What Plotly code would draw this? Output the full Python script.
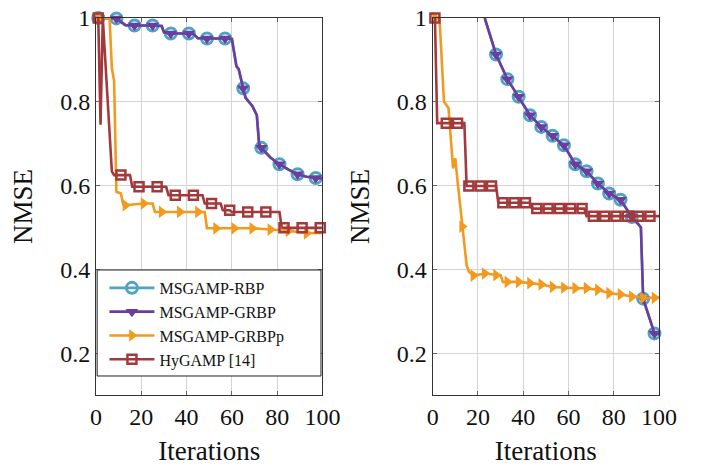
import plotly.graph_objects as go

# ---------------- data ----------------
names = ["MSGAMP-RBP", "MSGAMP-GRBP", "MSGAMP-GRBPp", "HyGAMP [14]"]
x_ticks = [0, 20, 40, 60, 80, 100]
y_ticks = [0.2, 0.4, 0.6, 0.8, 1.0]
y_tick_text = ["0.2", "0.4", "0.6", "0.8", "1"]

# left panel
rbp_left_it = [1, 9, 13, 17, 25, 29, 30, 33, 41, 43, 45, 49, 57, 60, 62, 63, 65, 66, 69, 71, 72, 73, 77, 81, 85, 89, 93, 97, 100]
rbp_left_val = [1.0, 0.999, 0.983, 0.982, 0.982, 0.981, 0.966, 0.963, 0.963, 0.962, 0.952, 0.951, 0.951, 0.950, 0.885, 0.878, 0.832, 0.810, 0.790, 0.768, 0.700, 0.690, 0.667, 0.651, 0.638, 0.627, 0.621, 0.618, 0.617]
grbp_left_it = [1, 9, 13, 17, 25, 29, 30, 33, 41, 43, 45, 49, 57, 60, 62, 63, 65, 66, 69, 71, 72, 73, 77, 81, 85, 89, 93, 97, 100]
grbp_left_val = [1.0, 0.999, 0.983, 0.982, 0.982, 0.981, 0.966, 0.963, 0.963, 0.962, 0.952, 0.951, 0.951, 0.950, 0.885, 0.878, 0.832, 0.810, 0.790, 0.768, 0.700, 0.690, 0.667, 0.651, 0.638, 0.627, 0.621, 0.618, 0.617]
grbpp_left_it = [1, 6, 7, 8, 9, 11, 12, 13, 21, 25, 26, 29, 37, 45, 48, 49, 53, 61, 69, 77, 85, 93, 100]
grbpp_left_val = [1.0, 1.0, 0.88, 0.85, 0.585, 0.581, 0.555, 0.553, 0.557, 0.557, 0.537, 0.537, 0.537, 0.537, 0.537, 0.498, 0.498, 0.498, 0.498, 0.495, 0.492, 0.486, 0.487]
hy_left_it = [1, 2, 3, 7, 8, 11, 15, 16, 19, 27, 31, 32, 35, 43, 47, 48, 51, 55, 56, 59, 60, 67, 75, 81, 82, 83, 91, 99, 100]
hy_left_val = [1.0, 0.745, 1.0, 0.634, 0.625, 0.625, 0.625, 0.597, 0.597, 0.597, 0.597, 0.577, 0.577, 0.577, 0.577, 0.557, 0.557, 0.557, 0.541, 0.541, 0.537, 0.537, 0.537, 0.537, 0.500, 0.499, 0.499, 0.499, 0.499]

# right panel
rbp_right_it = [23, 28, 33, 38, 43, 48, 53, 58, 63, 68, 73, 78, 83, 88, 91, 92, 93, 98, 100]
rbp_right_val = [1.0, 0.913, 0.854, 0.812, 0.768, 0.740, 0.719, 0.696, 0.651, 0.634, 0.605, 0.581, 0.566, 0.525, 0.507, 0.500, 0.330, 0.247, 0.245]
grbp_right_it = [23, 28, 33, 38, 43, 48, 53, 58, 63, 68, 73, 78, 83, 88, 91, 92, 93, 98, 100]
grbp_right_val = [1.0, 0.913, 0.854, 0.812, 0.768, 0.740, 0.719, 0.696, 0.651, 0.634, 0.605, 0.581, 0.566, 0.525, 0.507, 0.500, 0.330, 0.247, 0.245]
grbpp_right_it = [1, 3, 5, 7, 9, 10, 11, 13, 15, 16, 18, 23, 28, 30, 31, 33, 38, 43, 48, 53, 58, 63, 68, 73, 78, 83, 88, 93, 98, 100]
grbpp_right_val = [1.0, 1.0, 0.80, 0.785, 0.641, 0.665, 0.61, 0.502, 0.41, 0.395, 0.385, 0.390, 0.386, 0.386, 0.370, 0.370, 0.370, 0.367, 0.364, 0.358, 0.356, 0.355, 0.355, 0.351, 0.343, 0.340, 0.335, 0.332, 0.332, 0.333]
hy_right_it = [1, 2, 6, 11, 14, 15, 16, 21, 26, 28, 29, 31, 36, 41, 43, 44, 46, 51, 56, 61, 66, 67, 68, 71, 76, 81, 86, 91, 96, 100]
hy_right_val = [1.0, 0.749, 0.749, 0.749, 0.749, 0.599, 0.599, 0.599, 0.599, 0.599, 0.559, 0.559, 0.559, 0.559, 0.559, 0.545, 0.545, 0.545, 0.545, 0.545, 0.545, 0.545, 0.527, 0.527, 0.527, 0.527, 0.527, 0.527, 0.527, 0.527]

# iterations that carry a mark
marks_left_msgamp = [1, 9, 17, 25, 33, 41, 49, 57, 65, 73, 81, 89, 97]
marks_left_grbpp = [1, 13, 21, 29, 37, 45, 53, 61, 69, 77, 85, 93]
marks_left_hy = [1, 11, 19, 27, 35, 43, 51, 59, 67, 75, 83, 91, 99]
marks_right_msgamp = [28, 33, 38, 43, 48, 53, 58, 63, 68, 73, 78, 83, 88, 93, 98]
marks_right_grbpp = [1, 13, 18, 23, 28, 33, 38, 43, 48, 53, 58, 63, 68, 73, 78, 83, 88, 93, 98]
marks_right_hy = [1, 6, 11, 16, 21, 26, 31, 36, 41, 46, 51, 56, 61, 66, 71, 76, 81, 86, 91, 96]

# ---------------- styles ----------------
C_CYAN = "#4fa3c4"
C_PURPLE = "#6a3d9e"
C_ORANGE = "#f39a1e"
C_RED = "#a3393b"
styles = {
    names[0]: dict(color=C_CYAN, symbol="circle-open", size=11, mlw=3),
    names[1]: dict(color=C_PURPLE, symbol="triangle-down", size=11, mlw=0),
    names[2]: dict(color=C_ORANGE, symbol="triangle-right", size=11, mlw=0),
    names[3]: dict(color=C_RED, symbol="square-open", size=9, mlw=2.5),
}
LW = 2.6
FONT = "Liberation Serif"

fig = go.Figure()

# legend-only entries
for n in names:
    s = styles[n]
    fig.add_trace(go.Scatter(
        x=[None], y=[None], mode="lines+markers", name=n, legendgroup=n,
        line=dict(color=s["color"], width=LW),
        marker=dict(symbol=s["symbol"], size=s["size"], color=s["color"],
                    line=dict(color=s["color"], width=s["mlw"])),
        xaxis="x", yaxis="y", showlegend=True))


def add_series(name, its, vals, marks, xa, ya):
    s = styles[name]
    fig.add_trace(go.Scatter(
        x=its, y=vals, mode="lines", legendgroup=name, showlegend=False,
        line=dict(color=s["color"], width=LW), xaxis=xa, yaxis=ya, hoverinfo="skip"))
    mx = [i for i in its if i in marks]
    my = [v for i, v in zip(its, vals) if i in marks]
    fig.add_trace(go.Scatter(
        x=mx, y=my, mode="markers", legendgroup=name, showlegend=False, cliponaxis=False,
        marker=dict(symbol=s["symbol"], size=s["size"], color=s["color"],
                    line=dict(color=s["color"], width=s["mlw"])),
        xaxis=xa, yaxis=ya))


add_series(names[0], rbp_left_it, rbp_left_val, marks_left_msgamp, "x", "y")
add_series(names[1], grbp_left_it, grbp_left_val, marks_left_msgamp, "x", "y")
add_series(names[2], grbpp_left_it, grbpp_left_val, marks_left_grbpp, "x", "y")
add_series(names[3], hy_left_it, hy_left_val, marks_left_hy, "x", "y")

add_series(names[0], rbp_right_it, rbp_right_val, marks_right_msgamp, "x2", "y2")
add_series(names[1], grbp_right_it, grbp_right_val, marks_right_msgamp, "x2", "y2")
add_series(names[2], grbpp_right_it, grbpp_right_val, marks_right_grbpp, "x2", "y2")
add_series(names[3], hy_right_it, hy_right_val, marks_right_hy, "x2", "y2")

axis_common = dict(
    showline=True, linecolor="#333333", linewidth=1, mirror="ticks",
    ticks="inside", ticklen=4, tickcolor="#666666", tickwidth=1,
    showgrid=True, gridcolor="#d4d4d4", gridwidth=1, zeroline=False,
    tickfont=dict(family=FONT, size=24, color="#111111"),
    ticklabeloverflow="allow",
)
xcommon = dict(axis_common, range=[0, 100], tickvals=x_ticks, ticktext=[str(t) for t in x_ticks],
               title=dict(text="Iterations", font=dict(family=FONT, size=27, color="#111111"), standoff=12))
ycommon = dict(axis_common, range=[0.1, 1.0], tickvals=y_ticks, ticktext=y_tick_text,
               title=dict(text="NMSE", font=dict(family=FONT, size=27, color="#111111"), standoff=19))

# legend frame (drawn as a box inside the left panel)
fig.add_shape(type="rect", xref="paper", yref="paper",
              x0=0.002, x1=0.3996, y0=0.0504, y1=0.3316,
              line=dict(color="#222222", width=1), fillcolor="white", layer="above")

fig.update_layout(
    width=701, height=468,
    margin=dict(l=96, r=42, t=18, b=73, autoexpand=False),
    paper_bgcolor="white", plot_bgcolor="white",
    xaxis=dict(xcommon, domain=[0, 0.4023], anchor="y"),
    yaxis=dict(ycommon, domain=[0, 1], anchor="x"),
    xaxis2=dict(xcommon, domain=[0.598, 1], anchor="y2"),
    yaxis2=dict(ycommon, domain=[0, 1], anchor="x2"),
    showlegend=True,
    legend=dict(x=0.015, y=0.329, xanchor="left", yanchor="top",
                bgcolor="rgba(0,0,0,0)", borderwidth=0,
                font=dict(family=FONT, size=16, color="#111111"),
                tracegroupgap=0, itemwidth=45),
)

fig.write_html("out.html", config={"displayModeBar": False},
               post_script="document.body.style.margin='0';")
